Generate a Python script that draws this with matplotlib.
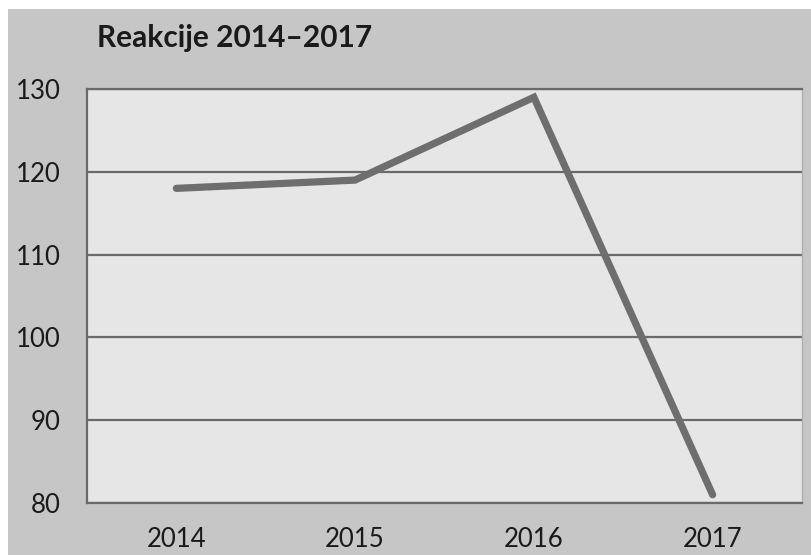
import matplotlib.pyplot as plt
from matplotlib.patches import Rectangle

# data
years = ['2014', '2015', '2016', '2017']
reactions = [118, 119, 129, 81]
y_ticks = [80, 90, 100, 110, 120, 130]

plt.rcParams['font.family'] = ['Lato', 'DejaVu Sans']

W, H = 811, 555
fig = plt.figure(figsize=(W / 100, H / 100), dpi=100)
fig.patch.set_facecolor('white')
# grey chart area with a small white margin at top and left
fig.patches.append(Rectangle((8 / W, 0), 1, 1 - 9 / H, transform=fig.transFigure,
                             facecolor='#c6c6c6', edgecolor='none', zorder=-10))

ax = fig.add_axes([87 / W, 1 - 503 / H, (802 - 87) / W, (503 - 89) / H])
ax.set_zorder(1)
ax.set_facecolor('#e6e6e6')

x = range(len(years))
ax.plot(x, reactions, color='#6e6e6e', linewidth=5.2, solid_capstyle='round',
        solid_joinstyle='miter', zorder=3)

ax.set_xlim(-0.5, len(years) - 0.5)
ax.set_ylim(80, 130)
ax.set_yticks(y_ticks)
ax.set_xticks(list(x))
ax.set_xticklabels(years)
ax.yaxis.grid(True, color='#6a6a6a', linewidth=1.6)
ax.set_axisbelow(True)
ax.tick_params(axis='both', length=0, labelsize=18.5, colors='#1a1a1a')
ax.tick_params(axis='y', pad=19)
ax.tick_params(axis='x', pad=17)

for side in ['left', 'bottom', 'top']:
    ax.spines[side].set_color('#6a6a6a')
    ax.spines[side].set_linewidth(1.6)
ax.spines['right'].set_color('#b0b0b0')
ax.spines['right'].set_linewidth(1.0)

fig.text(97 / W, 1 - 47 / H, 'Reakcije 2014\u20132017', fontsize=21.5,
         fontweight='bold', color='#1a1a1a', ha='left', va='baseline')

fig.savefig('out.png', dpi=100)
